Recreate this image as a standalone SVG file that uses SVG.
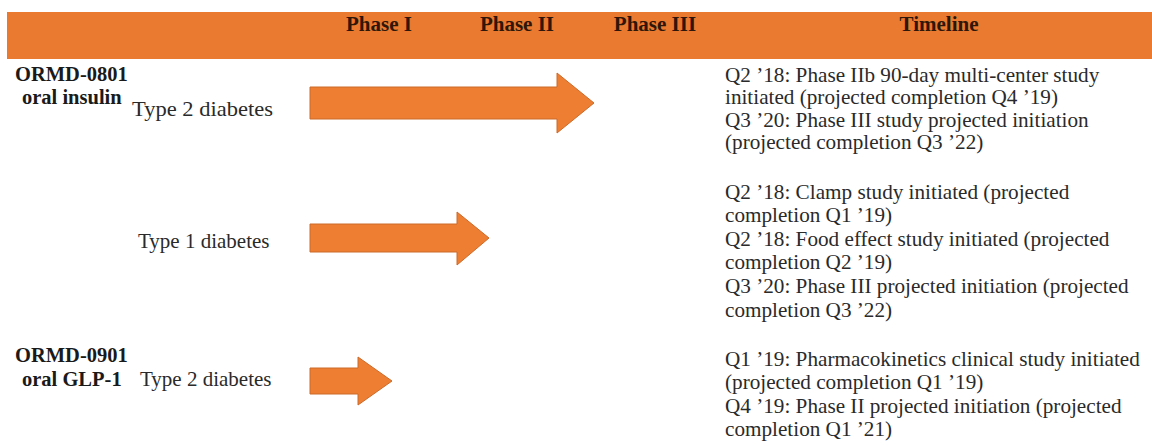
<svg xmlns="http://www.w3.org/2000/svg" width="1152" height="447" viewBox="0 0 1152 447">
<style>
.hdr{font-family:"Liberation Serif","Times New Roman",serif;font-weight:bold;font-size:21px;fill:#2e1608;text-anchor:middle}
.drug{font-family:"Liberation Serif","Times New Roman",serif;font-weight:bold;font-size:20.5px;fill:#1a1a1a}
.ind{font-family:"Liberation Serif","Times New Roman",serif;font-size:21px;fill:#2a2a2a}
.tl{font-family:"Liberation Serif","Times New Roman",serif;font-size:21.2px;fill:#2a2a2a}
.arrow{fill:#EE7E31;stroke:#CC6A2A;stroke-width:1}
</style>
<rect width="1152" height="447" fill="#ffffff"/>
<g id="header">
<rect x="7" y="12" width="1145" height="47" fill="#E97A30"/>
<text class="hdr" x="379" y="31">Phase I</text>
<text class="hdr" x="517" y="31">Phase II</text>
<text class="hdr" x="655" y="31">Phase III</text>
<text class="hdr" x="939" y="31">Timeline</text>
</g>
<g id="row-ormd0801-t2">
<text class="drug" x="15" y="81">ORMD-0801</text>
<text class="drug" x="22" y="104">oral insulin</text>
<text class="ind" x="132" y="116" textLength="141" lengthAdjust="spacingAndGlyphs">Type 2 diabetes</text>
<text class="tl" x="725" y="82">Q2 ’18: Phase IIb 90-day multi-center study</text>
<text class="tl" x="725" y="104">initiated (projected completion Q4 ’19)</text>
<text class="tl" x="725" y="127">Q3 ’20: Phase III study projected initiation</text>
<text class="tl" x="725" y="149">(projected completion Q3 ’22)</text>
</g>
<g id="row-ormd0801-t1">
<text class="ind" x="138" y="248">Type 1 diabetes</text>
<text class="tl" x="725" y="199">Q2 ’18: Clamp study initiated (projected</text>
<text class="tl" x="725" y="222">completion Q1 ’19)</text>
<text class="tl" x="725" y="246">Q2 ’18: Food effect study initiated (projected</text>
<text class="tl" x="725" y="269">completion Q2 ’19)</text>
<text class="tl" x="725" y="293">Q3 ’20: Phase III projected initiation (projected</text>
<text class="tl" x="725" y="317">completion Q3 ’22)</text>
</g>
<g id="row-ormd0901-t2">
<text class="drug" x="15" y="362">ORMD-0901</text>
<text class="drug" x="22" y="386">oral GLP-1</text>
<text class="ind" x="140" y="386">Type 2 diabetes</text>
<text class="tl" x="725" y="366">Q1 ’19: Pharmacokinetics clinical study initiated</text>
<text class="tl" x="725" y="389">(projected completion Q1 ’19)</text>
<text class="tl" x="725" y="413">Q4 ’19: Phase II projected initiation (projected</text>
<text class="tl" x="725" y="436">completion Q1 ’21)</text>
</g>
<g id="connectors">
<polygon class="arrow" points="310,87 557,87 557,73 594,103 557,133 557,119 310,119"/>
<polygon class="arrow" points="310,224 457,224 457,212 489,238 457,265 457,252 310,252"/>
<polygon class="arrow" points="310,368 358,368 358,357 392,381 358,405 358,394 310,394"/>
</g>
</svg>
